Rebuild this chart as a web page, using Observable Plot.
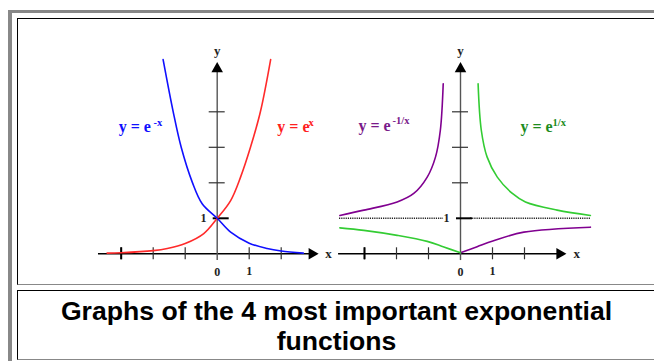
<!DOCTYPE html>
<html><head><meta charset="utf-8">
<script src="https://cdn.jsdelivr.net/npm/d3@7"></script>
<script src="https://cdn.jsdelivr.net/npm/@observablehq/plot@0.6"></script>
<style>
body{margin:0;background:#fff}
#page{position:relative;width:654px;height:361px;overflow:hidden;background:#fff}
.abs{position:absolute;box-sizing:content-box}
#outer{left:8px;top:10px;width:700px;height:400px;border-left:4px solid #888;border-top:3px solid #888}
#cell1{left:17px;top:18px;width:641px;height:265px;border-left:1px solid #000;border-top:1px solid #000;border-right:1px solid #888;border-bottom:1px solid #888}
#cell2{left:17px;top:290px;width:641px;height:68px;border-left:1px solid #000;border-top:1px solid #000;border-right:1px solid #888;border-bottom:1px solid #888}
#caption{left:15px;width:643px;top:296px;text-align:center;font:bold 26.6px/30px "Liberation Sans",Arial,sans-serif;color:#000}
.plot{position:absolute;left:0;top:0}
</style></head>
<body>
<div id="page">
  <div id="outer" class="abs"></div>
  <div id="cell1" class="abs"></div>
  <div id="cell2" class="abs"></div>
  <div id="caption" class="abs">Graphs of the 4 most important exponential<br>functions</div>
</div>
<script>
// ---- data (in graph units) ----
const xTicks = [-3, -2, -1, 1, 2];
const yTicks = [2, 3, 4];
const xTickLabels = [{x: 0, t: "0"}, {x: 1, t: "1"}];
const yTickLabel = "1";

const expX = [[-3.44,0.02],[-3.0,0.03],[-2.0,0.09],[-1.56,0.15],[-1.0,0.29],[-0.42,0.57],[0,1],[0.42,1.5],[0.73,2.16],[1.04,3.0],[1.35,4.0],[1.67,5.47]];
const expNegX = [[-1.69,5.47],[-1.375,4.0],[-1.125,3.0],[-0.78,2.02],[-0.47,1.41],[0,1],[0.42,0.61],[1.0,0.30],[1.56,0.15],[2.0,0.08],[2.69,0.02]];

const expNegInvLeft = [[-3.77,1.08],[-3.02,1.23],[-1.98,1.46],[-1.46,1.70],[-1.04,2.16],[-0.78,2.73],[-0.63,3.48],[-0.54,4.79]];
const expNegInvRight = [[0,0.03],[0.52,0.2],[1.01,0.36],[1.98,0.61],[4.06,0.75]];
const expInvRight = [[0.55,4.79],[0.65,3.48],[0.83,2.73],[1.15,2.16],[1.62,1.70],[2.03,1.46],[3.02,1.23],[4.06,1.08]];
const expInvLeft = [[-3.77,0.73],[-3.02,0.66],[-1.98,0.52],[-1.04,0.35],[-0.52,0.19],[0,0.03]];

const asymptoteSegments = [[-3.78,-0.53],[0.31,4.06]];
const asymptoteValue = 1;

const labelsLeft = [
  {x: -3.08, y: 3.42, t: "y = e", sx: -1.99, sy: 3.59, s: "-x", c: "#1010ff"},
  {x: 1.88, y: 3.42, t: "y = e", sx: 2.85, sy: 3.59, s: "x", c: "#ff2020"}
];
const labelsRight = [
  {x: -3.19, y: 3.47, t: "y = e", sx: -2.125, sy: 3.67, s: "-1/x", c: "#7a1a8a"},
  {x: 1.875, y: 3.42, t: "y = e", sx: 2.875, sy: 3.59, s: "1/x", c: "#1e8c1e"}
];

// ---- drawing ----
const W = 654, H = 361, UX = 32, UY = 35.5;
const serif = "'Liberation Serif','Times New Roman',serif";

function graph({ox, oy, xAxis, yAxis, yLabelX, xLabelX, curves, labels, extra = []}) {
  const xd = [-ox / UX, (W - ox) / UX];
  const yd = [(oy - H) / UY, oy / UY];
  const th = 6 / UY, tw = 8 / UX;
  const pt = {x: d => d[0], y: d => d[1]};
  return Plot.plot({
    width: W, height: H, margin: 0,
    style: {background: "transparent", overflow: "visible"},
    x: {domain: xd, range: [0, W], axis: null},
    y: {domain: yd, range: [H, 0], axis: null},
    marks: [
      ...extra,
      Plot.ruleY([0], {x1: xAxis[0], x2: xAxis[1] - 8 / UX, stroke: "#000", strokeWidth: 1.4}),
      Plot.ruleX([0], {y1: yAxis[0], y2: yAxis[1] - 8 / UY, stroke: "#555", strokeWidth: 1.4}),
      Plot.ruleX(xTicks, {x: d => d, y1: -th, y2: th, stroke: "#333", strokeWidth: 1.2}),
      Plot.ruleX([xTicks[0]], {x: d => d, y1: -th, y2: th, stroke: "#000", strokeWidth: 2}),
      Plot.ruleY(yTicks, {y: d => d, x1: -tw, x2: tw, stroke: "#333", strokeWidth: 1.2}),
      Plot.ruleY([1], {y: d => d, x1: -4 / UX, x2: 12 / UX, stroke: "#000", strokeWidth: 2}),
      Plot.dot([[xAxis[1], 0]], {...pt, symbol: "triangle", r: 4.3, rotate: 90, fill: "#000", stroke: "none", dx: -6.7}),
      Plot.dot([[0, yAxis[1]]], {...pt, symbol: "triangle", r: 4.3, rotate: 0, fill: "#000", stroke: "none", dy: 6.7}),
      ...curves.map(c => Plot.line(c.data, {...pt, stroke: c.color, strokeWidth: 1.6, curve: "catmull-rom"})),
      Plot.text(["y"], {x: 0, y: 5.73, text: d => d, fontFamily: serif, fontSize: 13, fontWeight: "bold", fill: "#222"}),
      Plot.text(["x"], {x: xLabelX, y: 0, text: d => d, fontFamily: serif, fontSize: 13, fontWeight: "bold", fill: "#222"}),
      Plot.text(xTickLabels, {x: "x", y: d => d.x === 0 ? -0.53 : -0.5, text: "t", fontFamily: serif, fontSize: 12, fontWeight: "bold", fill: "#222"}),
      Plot.text([yTickLabel], {x: yLabelX, y: 1, text: d => d, fontFamily: serif, fontSize: 12, fontWeight: "bold", fill: "#222"}),
      Plot.text(labels, {x: "x", y: "y", text: "t", fill: "c", fontFamily: serif, fontSize: 16, fontWeight: "bold", textAnchor: "start", lineAnchor: "bottom"}),
      Plot.text(labels, {x: "sx", y: "sy", text: "s", fill: "c", fontFamily: serif, fontSize: 10.5, fontWeight: "bold", textAnchor: "start", lineAnchor: "bottom"})
    ]
  });
}

const left = graph({
  ox: 216.7, oy: 253.3,
  xAxis: [-3.71, 3.17], yAxis: [-0.19, 5.40],
  xLabelX: 3.48, yLabelX: -0.43,
  curves: [{data: expX, color: "#ff2a2a"}, {data: expNegX, color: "#1010ff"}],
  labels: labelsLeft
});

const right = graph({
  ox: 460, oy: 253.3,
  xAxis: [-3.81, 3.31], yAxis: [-0.19, 5.40],
  xLabelX: 3.63, yLabelX: -0.44,
  curves: [
    {data: expNegInvLeft, color: "#800090"}, {data: expNegInvRight, color: "#800090"},
    {data: expInvRight, color: "#33cc33"}, {data: expInvLeft, color: "#33cc33"}
  ],
  labels: labelsRight,
  extra: [Plot.ruleY(asymptoteSegments, {y: () => asymptoteValue, x1: d => d[0], x2: d => d[1], stroke: "#222", strokeWidth: 1.6, strokeDasharray: "1.2,1"})]
});

left.classList.add("plot");
right.classList.add("plot");
document.getElementById("page").append(left, right);
</script>
</body></html>
